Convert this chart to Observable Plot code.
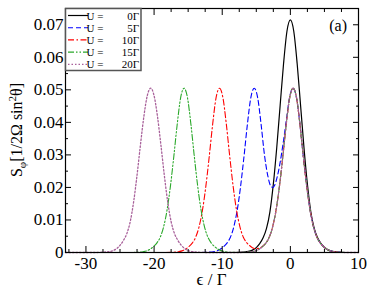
<!DOCTYPE html>
<html><head><meta charset="utf-8">
<script src="https://cdn.jsdelivr.net/npm/d3@7"></script>
<script src="https://cdn.jsdelivr.net/npm/@observablehq/plot@0.6"></script>
<style>body{margin:0;background:#fff}</style>
</head><body><div id="chart"></div>
<script>
// Tick values
const xMajor = [-30, -20, -10, 0, 10];
const xMinor = [-32.5, -27.5, -25, -22.5, -17.5, -15, -12.5, -7.5, -5, -2.5, 2.5, 5, 7.5];
const yMajor = [0, 0.01, 0.02, 0.03, 0.04, 0.05, 0.06, 0.07];
const yMinor = [0.005, 0.015, 0.025, 0.035, 0.045, 0.055, 0.065];

// Legend labels
const legendPrefix = ["U =", "U =", "U =", "U =", "U ="];
const legendValue = ["0Γ", "5Γ", "10Γ", "15Γ", "20Γ"];

// U = 0
const u0X = [-33, -10, -8, -7, -6, -5.5, -5, -4.5, -4, -3.5, -3, -2.5, -2, -1.5, -1, -0.5, 0, 0.5, 1, 1.5, 2, 2.5, 3, 3.5, 4, 4.5, 5, 5.5, 6, 7, 8, 10];
const u0Y = [0, 0, 0, 0.0001, 0.0004, 0.0008, 0.0015, 0.0027, 0.0045, 0.0074, 0.0125, 0.021, 0.0322, 0.0452, 0.058, 0.068, 0.0715, 0.068, 0.058, 0.0452, 0.0322, 0.021, 0.0125, 0.0074, 0.0045, 0.0027, 0.0015, 0.0008, 0.0004, 0.0001, 0, 0];

// U = 5
const u5X = [-33, -15, -13.3, -12.3, -11.3, -10.8, -10.3, -9.8, -9.3, -8.8, -8.3, -7.8, -7.3, -6.8, -6.3, -5.8, -5.3, -4.8, -4.3, -3.8, -3.3, -2.9, -2.6, -2.3, -1.9, -1.6, -1.1, -0.6, -0.1, 0.4, 0.9, 1.4, 1.9, 2.4, 2.9, 3.4, 3.9, 4.4, 4.9, 5.4, 6.4, 7.4, 8.4, 10];
const u5Y = [0, 0, 0, 0.00005, 0.00025, 0.0005, 0.001, 0.0018, 0.0029, 0.0047, 0.0079, 0.013, 0.0204, 0.0296, 0.0395, 0.0476, 0.0505, 0.0476, 0.0395, 0.03, 0.0235, 0.0205, 0.02, 0.0207, 0.0235, 0.0265, 0.033, 0.0405, 0.0478, 0.0505, 0.0476, 0.0395, 0.0296, 0.0204, 0.013, 0.0079, 0.0047, 0.0029, 0.0018, 0.001, 0.00025, 0.00005, 0, 0];

// U = 10
const u10X = [-33, -20, -18.4, -17.4, -16.4, -15.9, -15.4, -14.9, -14.4, -13.9, -13.4, -12.9, -12.4, -11.9, -11.4, -10.9, -10.4, -9.9, -9.4, -8.9, -8.4, -7.9, -7.4, -6.9, -6.4, -5.9, -5.4, -5.0, -4.6, -4.1, -3.6, -3.1, -2.6, -2.1, -1.6, -1.1, -0.6, -0.1, 0.4, 0.9, 1.4, 1.9, 2.4, 2.9, 3.4, 3.9, 4.4, 4.9, 5.4, 5.9, 6.4, 7.4, 8.4, 10];
const u10Y = [0, 0, 0, 0.00005, 0.00025, 0.0005, 0.001, 0.0018, 0.0029, 0.0047, 0.0079, 0.013, 0.0204, 0.0296, 0.0395, 0.0476, 0.0505, 0.0476, 0.0395, 0.0296, 0.0204, 0.013, 0.0079, 0.0047, 0.003, 0.002, 0.0013, 0.0012, 0.0013, 0.0019, 0.0029, 0.0047, 0.0079, 0.013, 0.0204, 0.0296, 0.0395, 0.0476, 0.0505, 0.0476, 0.0395, 0.0296, 0.0204, 0.013, 0.0079, 0.0047, 0.0029, 0.0018, 0.001, 0.0005, 0.00025, 0.00005, 0, 0];

// U = 15
const u15X = [-33, -25, -23.6, -22.6, -21.6, -21.1, -20.6, -20.1, -19.6, -19.1, -18.6, -18.1, -17.6, -17.1, -16.6, -16.1, -15.6, -15.1, -14.6, -14.1, -13.6, -13.1, -12.6, -12.1, -11.6, -11.1, -10.6, -9.6, -8.6, -7.6, -6.6, -5.6, -5.1, -4.6, -4.1, -3.6, -3.1, -2.6, -2.1, -1.6, -1.1, -0.6, -0.1, 0.4, 0.9, 1.4, 1.9, 2.4, 2.9, 3.4, 3.9, 4.4, 4.9, 5.4, 5.9, 6.4, 7.4, 8.4, 10];
const u15Y = [0, 0, 0, 0.00005, 0.00025, 0.0005, 0.001, 0.0018, 0.0029, 0.0047, 0.0079, 0.013, 0.0204, 0.0296, 0.0395, 0.0476, 0.0505, 0.0476, 0.0395, 0.0296, 0.0204, 0.013, 0.0079, 0.0047, 0.0029, 0.0018, 0.001, 0.00025, 0.00005, 0, 0.00005, 0.00025, 0.0005, 0.001, 0.0018, 0.0029, 0.0047, 0.0079, 0.013, 0.0204, 0.0296, 0.0395, 0.0476, 0.0505, 0.0476, 0.0395, 0.0296, 0.0204, 0.013, 0.0079, 0.0047, 0.0029, 0.0018, 0.001, 0.0005, 0.00025, 0.00005, 0, 0];

// U = 20
const u20X = [-33, -30.5, -28.5, -27.5, -26.5, -26, -25.5, -25, -24.5, -24, -23.5, -23, -22.5, -22, -21.5, -21, -20.5, -20, -19.5, -19, -18.5, -18, -17.5, -17, -16.5, -16, -15.5, -15, -14.5, -13.5, -12.5, -7.6, -6.6, -5.6, -5.1, -4.6, -4.1, -3.6, -3.1, -2.6, -2.1, -1.6, -1.1, -0.6, -0.1, 0.4, 0.9, 1.4, 1.9, 2.4, 2.9, 3.4, 3.9, 4.4, 4.9, 5.4, 5.9, 6.4, 7.4, 8.4, 10];
const u20Y = [0, 0, 0, 0.0001, 0.0003, 0.0006, 0.0012, 0.0022, 0.0037, 0.0058, 0.0095, 0.0156, 0.0238, 0.0331, 0.0418, 0.0482, 0.0505, 0.0482, 0.0418, 0.0331, 0.0238, 0.0156, 0.0095, 0.0058, 0.0037, 0.0022, 0.0012, 0.0006, 0.0003, 0.0001, 0, 0, 0.00005, 0.00025, 0.0005, 0.001, 0.0018, 0.0029, 0.0047, 0.0079, 0.013, 0.0204, 0.0296, 0.0395, 0.0476, 0.0505, 0.0476, 0.0395, 0.0296, 0.0204, 0.013, 0.0079, 0.0047, 0.0029, 0.0018, 0.001, 0.0005, 0.00025, 0.00005, 0, 0];

const seriesX = [u0X, u5X, u10X, u15X, u20X];
const seriesY = [u0Y, u5Y, u10Y, u15Y, u20Y];
const colors = ["#000000", "#0000ff", "#ff0000", "#2aa82a", "#a8609a"];
const dashes = [null, "5,3", "6,2.5,1.5,2.5", "6,2,1.5,2,1.5,2", "1.5,2"];
const widths = [1.2, 1.1, 1.1, 1.1, 1.3];

const serif = "Liberation Serif, DejaVu Serif, serif";

const lineMarks = seriesX.map((xs, k) =>
  Plot.line(xs.map((x, i) => ({x, y: seriesY[k][i]})), {
    x: "x", y: "y", stroke: colors[k], strokeWidth: widths[k],
    strokeDasharray: dashes[k], curve: "monotone-x"
  })
);

function decorations(index, scales, values, dim) {
  const g = d3.create("svg:g").attr("font-family", serif).attr("fill", "black");
  const left = dim.marginLeft, top = dim.marginTop;
  const right = dim.width - dim.marginRight, bottom = dim.height - dim.marginBottom;
  // y label
  const yl = g.append("text")
    .attr("transform", `translate(21.5,${(top + bottom) / 2}) rotate(-90)`)
    .attr("text-anchor", "middle").attr("font-size", 16);
  yl.append("tspan").text("S");
  yl.append("tspan").attr("font-size", 11).attr("dy", 4).text("φ");
  yl.append("tspan").attr("dy", -4).text("[1/2Ω sin");
  yl.append("tspan").attr("font-size", 11).attr("dy", -6).text("2");
  yl.append("tspan").attr("dy", 6).text("θ]");
  // x label
  g.append("text").attr("x", (left + right) / 2).attr("y", 285)
    .attr("text-anchor", "middle").attr("font-size", 17).text("ϵ / Γ");
  // panel label
  g.append("text").attr("x", right - 11).attr("y", 31)
    .attr("text-anchor", "end").attr("font-size", 16).text("(a)");
  // legend
  const lg = g.append("g");
  lg.append("rect").attr("x", left + 0.5).attr("y", top + 0.5)
    .attr("width", 75.5).attr("height", 62)
    .attr("fill", "white").attr("stroke", "#555").attr("stroke-width", 1.5);
  legendValue.forEach((v, i) => {
    const cy = top + 7.5 + i * 12.2;
    lg.append("line").attr("x1", left + 3).attr("x2", left + 23)
      .attr("y1", cy).attr("y2", cy)
      .attr("stroke", colors[i]).attr("stroke-width", widths[i])
      .attr("stroke-dasharray", dashes[i]);
    lg.append("text").attr("x", left + 30).attr("y", cy + 4)
      .attr("font-size", 11).text(legendPrefix[i]);
    lg.append("text").attr("x", left + 74).attr("y", cy + 4)
      .attr("text-anchor", "end").attr("font-size", 11).text(v);
  });
  return g.node();
}

const chart = Plot.plot({
  width: 374, height: 289,
  marginLeft: 65, marginRight: 16, marginTop: 8, marginBottom: 37,
  x: {domain: [-33, 10]},
  y: {domain: [0, 0.075]},
  style: {fontFamily: serif, background: "white", color: "black"},
  marks: [
    ...lineMarks,
    Plot.frame({stroke: "black", strokeWidth: 1.2}),
    Plot.axisX({anchor: "bottom", ticks: xMajor, tickSize: 0, tickPadding: 4, fontSize: 17, tickFormat: d => String(d), label: null}),
    Plot.axisX({anchor: "bottom", ticks: xMajor, tickSize: -6, tickFormat: () => "", label: null}),
    Plot.axisX({anchor: "bottom", ticks: xMinor, tickSize: -3, tickFormat: () => "", label: null}),
    Plot.axisX({anchor: "top", ticks: xMajor, tickSize: -6, tickFormat: () => "", label: null}),
    Plot.axisX({anchor: "top", ticks: xMinor, tickSize: -3, tickFormat: () => "", label: null}),
    Plot.axisY({anchor: "left", ticks: yMajor, tickSize: 0, tickPadding: 2, fontSize: 17, tickFormat: d => d === 0 ? "0" : d.toFixed(2), label: null}),
    Plot.axisY({anchor: "left", ticks: yMajor, tickSize: -6, tickFormat: () => "", label: null}),
    Plot.axisY({anchor: "left", ticks: yMinor, tickSize: -3, tickFormat: () => "", label: null}),
    Plot.axisY({anchor: "right", ticks: yMajor, tickSize: -6, tickFormat: () => "", label: null}),
    Plot.axisY({anchor: "right", ticks: yMinor, tickSize: -3, tickFormat: () => "", label: null}),
    decorations
  ]
});
document.getElementById("chart").appendChild(chart);
</script>
</body></html>
